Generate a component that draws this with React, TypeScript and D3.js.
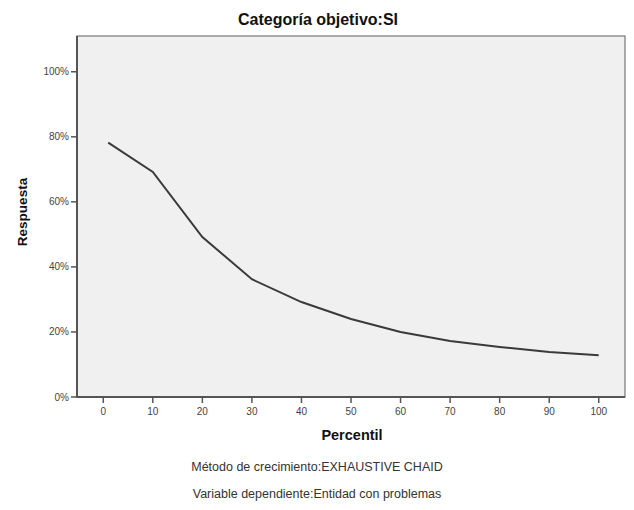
import * as d3 from "d3";

// Percentil (x) and Respuesta (y, fraction)
const percentiles = [1, 10, 20, 30, 40, 50, 60, 70, 80, 90, 100];
const responses = [0.782, 0.692, 0.492, 0.362, 0.292, 0.24, 0.2, 0.172, 0.154, 0.138, 0.128];
const xTicks = [0, 10, 20, 30, 40, 50, 60, 70, 80, 90, 100];
const yTicks = [0, 0.2, 0.4, 0.6, 0.8, 1.0];

const title = "Categoría objetivo:SI";
const xTitle = "Percentil";
const yTitle = "Respuesta";
const notes = [
  "Método de crecimiento:EXHAUSTIVE CHAID",
  "Variable dependiente:Entidad con problemas",
];

const W = 634;
const H = 510;
const margin = { top: 36, right: 9, bottom: 113, left: 77 };
const font = "'Liberation Sans', Arial, sans-serif";

export default function App() {
  const innerW = W - margin.left - margin.right;
  const innerH = H - margin.top - margin.bottom;

  const x = d3.scaleLinear().domain([-5.3, 105.3]).range([0, innerW]);
  const y = d3.scaleLinear().domain([0, 1.11]).range([innerH, 0]);

  const data = percentiles.map((p, i) => ({ p, v: responses[i] }));
  const line = d3
    .line<{ p: number; v: number }>()
    .x((d) => x(d.p))
    .y((d) => y(d.v));

  const pct = d3.format(".0%");

  return (
    <svg
      width={W}
      height={H}
      style={{ position: "absolute", left: 0, top: 0, background: "#fff" }}
    >
      <text
        x={318}
        y={25}
        textAnchor="middle"
        fontFamily={font}
        fontWeight="bold"
        fontSize={16}
        fill="#111"
      >
        {title}
      </text>

      <g transform={`translate(${margin.left},${margin.top})`}>
        {/* plot background and frame */}
        <rect
          x={0}
          y={0}
          width={innerW}
          height={innerH}
          fill="#f0f0f0"
          stroke="#777"
          strokeWidth={1.2}
        />
        {/* axis lines */}
        <line x1={0} x2={0} y1={0} y2={innerH} stroke="#555" strokeWidth={2} />
        <line x1={0} x2={innerW} y1={innerH} y2={innerH} stroke="#555" strokeWidth={2} />

        {/* y ticks */}
        {yTicks.map((t) => (
          <g key={t} transform={`translate(0,${y(t)})`}>
            <line x1={-6} x2={0} stroke="#555" strokeWidth={1.5} />
            <text
              x={-8}
              dy="0.35em"
              textAnchor="end"
              fontFamily={font}
              fontSize={10}
              fill="#444"
            >
              {pct(t)}
            </text>
          </g>
        ))}

        {/* x ticks */}
        {xTicks.map((t) => (
          <g key={t} transform={`translate(${x(t)},${innerH})`}>
            <line y1={0} y2={6} stroke="#555" strokeWidth={1.5} />
            <text
              y={18}
              textAnchor="middle"
              fontFamily={font}
              fontSize={10}
              fill="#444"
            >
              {t}
            </text>
          </g>
        ))}

        <path d={line(data) ?? ""} fill="none" stroke="#3a3a3a" strokeWidth={2} />
      </g>

      <text
        x={352}
        y={440}
        textAnchor="middle"
        fontFamily={font}
        fontWeight="bold"
        fontSize={14.5}
        fill="#111"
      >
        {xTitle}
      </text>
      <text
        transform={`translate(27,212) rotate(-90)`}
        textAnchor="middle"
        fontFamily={font}
        fontWeight="bold"
        fontSize={13.5}
        fill="#111"
      >
        {yTitle}
      </text>

      {notes.map((n, i) => (
        <text
          key={n}
          x={317}
          y={471 + i * 27}
          textAnchor="middle"
          fontFamily={font}
          fontSize={12.5}
          fill="#333"
        >
          {n}
        </text>
      ))}
    </svg>
  );
}
